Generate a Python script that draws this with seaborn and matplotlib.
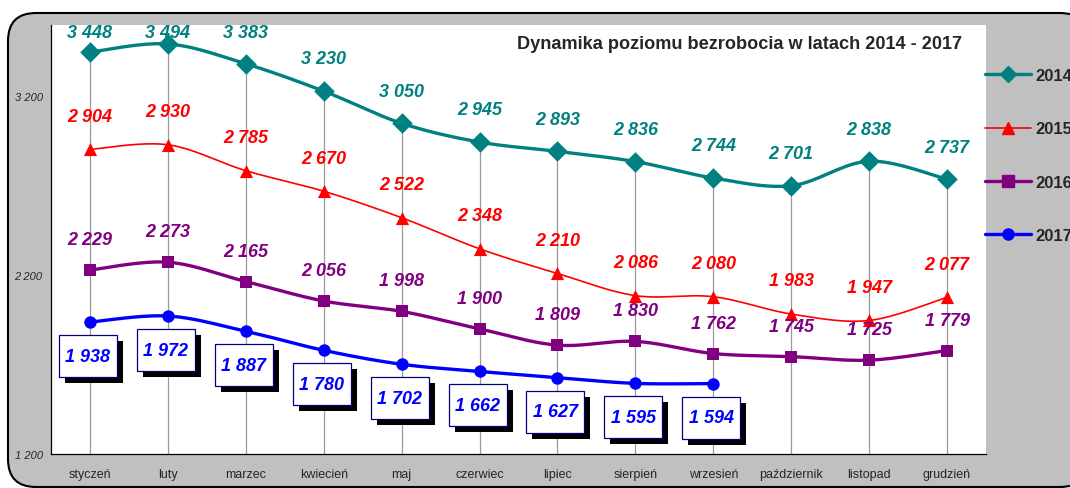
import numpy as np
import pandas as pd
import seaborn as sns
from matplotlib import pyplot as plt
from matplotlib import transforms as mtrans
from matplotlib.patches import FancyBboxPatch, Rectangle
from matplotlib.lines import Line2D

sns.set_theme(style="white")
plt.rcParams['font.family'] = ['Liberation Sans', 'DejaVu Sans']

months = ["styczeń", "luty", "marzec", "kwiecień", "maj", "czerwiec", "lipiec",
          "sierpień", "wrzesień", "październik", "listopad", "grudzień"]
v2014 = [3448, 3494, 3383, 3230, 3050, 2945, 2893, 2836, 2744, 2701, 2838, 2737]
v2015 = [2904, 2930, 2785, 2670, 2522, 2348, 2210, 2086, 2080, 1983, 1947, 2077]
v2016 = [2229, 2273, 2165, 2056, 1998, 1900, 1809, 1830, 1762, 1745, 1725, 1779]
v2017 = [1938, 1972, 1887, 1780, 1702, 1662, 1627, 1595, 1594]
years = ["2014", "2015", "2016", "2017"]
yticks = [1200, 2200, 3200]

series = dict(zip(years, [v2014, v2015, v2016, v2017]))
colors = {"2014": "#008080", "2015": "#FF0000", "2016": "#800080", "2017": "#0000FF"}
markers = {"2014": "D", "2015": "^", "2016": "s", "2017": "o"}
msize = {"2014": 110, "2015": 90, "2016": 80, "2017": 80}
lw = {"2014": 2.4, "2015": 1.2, "2016": 2.4, "2017": 2.4}
label_off = {"2014": 180, "2015": 185, "2016": 170}

def fmt(v):
    return f"{v:,}".replace(",", " ")

def smooth(x, y, n=20):
    # catmull-rom curve through the points, like Excel's smoothed line
    x = np.asarray(x, float); y = np.asarray(y, float)
    px = np.r_[x[0], x, x[-1]]; py = np.r_[y[0], y, y[-1]]
    xs, ys = [], []
    t = np.linspace(0, 1, n, endpoint=False)
    for i in range(1, len(px) - 2):
        for p, out in ((px, xs), (py, ys)):
            p0, p1, p2, p3 = p[i - 1], p[i], p[i + 1], p[i + 2]
            out.extend(0.5 * ((2 * p1) + (-p0 + p2) * t + (2 * p0 - 5 * p1 + 4 * p2 - p3) * t ** 2
                              + (-p0 + 3 * p1 - 3 * p2 + p3) * t ** 3))
    xs.append(x[-1]); ys.append(y[-1])
    return np.array(xs), np.array(ys)

df = pd.concat([pd.DataFrame({"m": range(len(v)), "val": v, "year": y}) for y, v in series.items()])

fig = plt.figure(figsize=(10.7, 4.89), dpi=100, facecolor="white")
frame = FancyBboxPatch((8, 1), 1080, 474, boxstyle="round,pad=0,rounding_size=28",
                       transform=None, facecolor="#C0C0C0", edgecolor="black", lw=1.5, zorder=-5)
fig.patches.append(frame)

ax = fig.add_axes([51 / 1070, 34 / 489, 935 / 1070, 429 / 489])
ax.set_facecolor("white")
ax.set_xlim(-0.5, 11.5)
ax.set_ylim(1200, 3600)

# drop lines from the top series
ax.vlines(range(12), 1200, v2014, color="#9A9A9A", lw=0.9, zorder=1)

for yr in years:
    d = df[df.year == yr]
    sx, sy = smooth(d.m, d.val)
    ax.plot(sx, sy, color=colors[yr], lw=lw[yr], zorder=3)
    sns.scatterplot(data=d, x="m", y="val", marker=markers[yr], s=msize[yr], color=colors[yr],
                    edgecolor=colors[yr], linewidth=0, ax=ax, zorder=4, legend=False)

for yr in ["2014", "2015", "2016"]:
    for i, v in enumerate(series[yr]):
        ax.text(i, min(v + label_off[yr], 3560), fmt(v), color=colors[yr], fontsize=13,
                fontweight="bold", fontstyle="italic", ha="center", va="center", zorder=5)

# 2017 labels: white boxes with a black drop shadow, sized in pixels below each point
for i, v in enumerate(v2017):
    tr = mtrans.Affine2D() + mtrans.ScaledTranslation(i, v, ax.transData)
    ax.add_patch(Rectangle((-25, -61), 58, 42, transform=tr, fc="black", ec="none", zorder=5))
    ax.add_patch(Rectangle((-31, -55), 58, 42, transform=tr, fc="white", ec="#000080", lw=0.9, zorder=6))
    ax.annotate(fmt(v), (i, v), xytext=(-2, -34), textcoords="offset pixels", ha="center",
                va="center", fontsize=13, fontweight="bold", fontstyle="italic",
                color=colors["2017"], zorder=7)

ax.set_yticks(yticks)
ax.set_yticklabels([fmt(t) for t in yticks], fontstyle="italic", fontsize=8)
ax.set_xticks(np.arange(-0.5, 12, 1))
ax.set_xticklabels([])
ax.set_xticks(range(12), minor=True)
ax.set_xticklabels(months, minor=True, fontsize=9)
ax.tick_params(axis="x", which="major", length=4, direction="out", color="black", width=0.8)
ax.tick_params(axis="x", which="minor", length=0, pad=10)
ax.tick_params(axis="y", length=4, direction="out", color="black", width=0.8, pad=2)
ax.set_xlabel(""); ax.set_ylabel("")
for s in ["top", "right"]:
    ax.spines[s].set_visible(False)
for s in ["left", "bottom"]:
    ax.spines[s].set_color("black")
    ax.spines[s].set_linewidth(0.9)

ax.text(0.974, 0.958, "Dynamika poziomu bezrobocia w latach 2014 - 2017", transform=ax.transAxes,
        ha="right", va="center", fontsize=13.1, fontweight="bold", zorder=8)

handles = [Line2D([], [], color=colors[y], lw=lw[y], marker=markers[y], markersize=8 if y != "2015" else 9)
           for y in years]
fig.legend(handles, years, loc="upper left", bbox_to_anchor=(985 / 1070, 1 - 69 / 489), frameon=False,
           prop=dict(size=12, weight="bold"), handlelength=2.75, handletextpad=0.3,
           labelspacing=2.3, borderpad=0, borderaxespad=0)

fig.savefig("out.png", dpi=100, facecolor="white")
